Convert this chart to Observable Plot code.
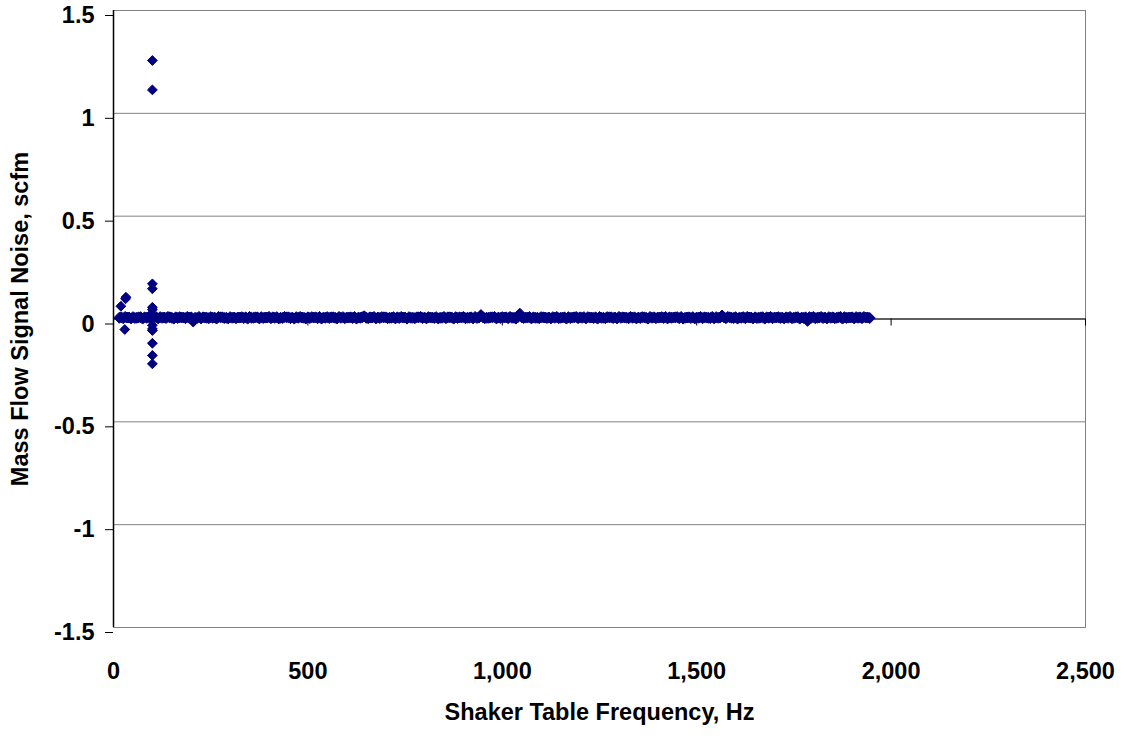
<!DOCTYPE html>
<html>
<head>
<meta charset="utf-8">
<script src="https://cdn.jsdelivr.net/npm/d3@7"></script>
<script src="https://cdn.jsdelivr.net/npm/@observablehq/plot@0.6"></script>
<style>
  html, body { margin: 0; padding: 0; background: #ffffff; }
  #chart { width: 1127px; height: 736px; }
</style>
</head>
<body>
<div id="chart"></div>
<script>
// Dense sweep band, pass A: frequency (Hz) and noise (scfm)
const bandFreqA = [
  15,25,35,45,55,65,75,85,95,105,
  115,125,135,145,155,165,175,185,195,205,
  215,225,235,245,255,265,275,285,295,305,
  315,325,335,345,355,365,375,385,395,405,
  415,425,435,445,455,465,475,485,495,505,
  515,525,535,545,555,565,575,585,595,605,
  615,625,635,645,655,665,675,685,695,705,
  715,725,735,745,755,765,775,785,795,805,
  815,825,835,845,855,865,875,885,895,905,
  915,925,935,945,955,965,975,985,995,1005,
  1015,1025,1035,1045,1055,1065,1075,1085,1095,1105,
  1115,1125,1135,1145,1155,1165,1175,1185,1195,1205,
  1215,1225,1235,1245,1255,1265,1275,1285,1295,1305,
  1315,1325,1335,1345,1355,1365,1375,1385,1395,1405,
  1415,1425,1435,1445,1455,1465,1475,1485,1495,1505,
  1515,1525,1535,1545,1555,1565,1575,1585,1595,1605,
  1615,1625,1635,1645,1655,1665,1675,1685,1695,1705,
  1715,1725,1735,1745,1755,1765,1775,1785,1795,1805,
  1815,1825,1835,1845,1855,1865,1875,1885,1895,1905,
  1915,1925,1935,1945
];
const bandNoiseA = [
  0.006,0.004,0.007,0.003,0.005,0.008,0.002,0.006,0.004,0.007,
  0.003,0.006,0.005,0.008,0.002,0.005,0.007,0.004,0.006,-0.012,
  0.005,0.003,0.007,0.004,0.006,0.002,0.008,0.005,0.003,0.006,
  0.004,0.007,0.005,0.002,0.006,0.008,0.003,0.005,0.007,0.004,
  0.006,0.003,0.005,0.008,0.004,0.002,0.006,0.007,0.003,0.005,
  0.007,0.004,0.002,0.006,0.005,0.008,0.003,0.006,0.004,0.007,
  0.005,0.002,0.006,0.013,0.004,0.007,0.003,0.005,0.008,0.004,
  0.006,0.003,0.005,0.007,0.002,0.006,0.004,0.008,0.005,0.003,
  0.007,0.005,0.003,0.006,0.004,0.008,0.002,0.005,0.007,0.004,
  0.006,0.003,0.005,0.019,0.004,0.006,0.008,0.003,0.005,0.007,
  0.004,0.006,0.002,0.026,0.005,0.007,0.003,0.006,0.004,0.008,
  0.005,0.003,0.006,0.004,0.007,0.002,0.005,0.008,0.004,0.006,
  0.003,0.007,0.005,0.002,0.006,0.004,0.008,0.005,0.003,0.006,
  0.007,0.004,0.006,0.003,0.005,0.008,0.002,0.006,0.004,0.007,
  0.005,0.003,0.006,0.008,0.004,0.002,0.007,0.005,0.003,0.006,
  0.004,0.007,0.005,0.003,0.006,0.017,0.004,0.008,0.005,0.002,
  0.006,0.004,0.007,0.003,0.005,0.008,0.002,0.006,0.004,0.007,
  0.005,0.003,0.006,0.004,0.008,0.002,0.005,-0.009,0.006,0.004,
  0.007,0.005,0.003,0.006,0.004,0.008,0.002,0.005,0.007,0.003,
  0.006,0.004,0.007,0.005
];
// Dense sweep band, pass B
const bandFreqB = [
  20,30,40,50,60,70,80,90,100,110,
  120,130,140,150,160,170,180,190,200,210,
  220,230,240,250,260,270,280,290,300,310,
  320,330,340,350,360,370,380,390,400,410,
  420,430,440,450,460,470,480,490,500,510,
  520,530,540,550,560,570,580,590,600,610,
  620,630,640,650,660,670,680,690,700,710,
  720,730,740,750,760,770,780,790,800,810,
  820,830,840,850,860,870,880,890,900,910,
  920,930,940,950,960,970,980,990,1000,1010,
  1020,1030,1040,1050,1060,1070,1080,1090,1100,1110,
  1120,1130,1140,1150,1160,1170,1180,1190,1200,1210,
  1220,1230,1240,1250,1260,1270,1280,1290,1300,1310,
  1320,1330,1340,1350,1360,1370,1380,1390,1400,1410,
  1420,1430,1440,1450,1460,1470,1480,1490,1500,1510,
  1520,1530,1540,1550,1560,1570,1580,1590,1600,1610,
  1620,1630,1640,1650,1660,1670,1680,1690,1700,1710,
  1720,1730,1740,1750,1760,1770,1780,1790,1800,1810,
  1820,1830,1840,1850,1860,1870,1880,1890,1900,1910,
  1920,1930,1940
];
const bandNoiseB = [
  0.008,0.010,0.007,0.009,0.006,0.009,0.008,0.010,0.007,0.009,
  0.009,0.007,0.010,0.006,0.008,0.009,0.007,0.010,0.008,0.006,
  0.010,0.008,0.006,0.009,0.007,0.010,0.008,0.006,0.009,0.007,
  0.007,0.009,0.008,0.010,0.006,0.008,0.009,0.007,0.010,0.008,
  0.009,0.006,0.010,0.008,0.007,0.009,0.010,0.006,0.008,0.009,
  0.008,0.010,0.007,0.009,0.008,0.006,0.010,0.009,0.007,0.008,
  0.010,0.007,0.009,0.006,0.008,0.010,0.007,0.009,0.008,0.006,
  0.009,0.008,0.010,0.007,0.009,0.006,0.008,0.010,0.007,0.009,
  0.007,0.009,0.006,0.010,0.008,0.007,0.009,0.008,0.010,0.006,
  0.008,0.010,0.007,0.009,0.006,0.008,0.010,0.007,0.009,0.008,
  0.010,0.006,0.009,0.008,0.007,0.010,0.008,0.006,0.009,0.007,
  0.007,0.009,0.010,0.006,0.008,0.009,0.007,0.010,0.008,0.009,
  0.009,0.007,0.008,0.010,0.006,0.009,0.008,0.007,0.010,0.008,
  0.006,0.010,0.008,0.007,0.009,0.006,0.010,0.008,0.007,0.009,
  0.010,0.008,0.007,0.009,0.010,0.006,0.008,0.009,0.007,0.010,
  0.008,0.006,0.010,0.009,0.007,0.008,0.010,0.006,0.009,0.007,
  0.009,0.010,0.007,0.008,0.006,0.009,0.008,0.010,0.007,0.009,
  0.007,0.008,0.010,0.006,0.009,0.007,0.008,0.009,0.010,0.006,
  0.010,0.007,0.009,0.008,0.006,0.010,0.009,0.007,0.008,0.009,
  0.008,0.010,0.007
];
// Outlying readings at low frequencies
const outlierFreq  = [100, 100, 100, 100, 100, 100, 100, 100, 100, 100, 100, 100, 32, 31, 19, 29];
const outlierNoise = [1.257, 1.114, 0.171, 0.147, 0.057, 0.046, -0.030, -0.048, -0.056, -0.118, -0.177, -0.218, 0.106, 0.098, 0.062, -0.051];

const xTicks = [0, 500, 1000, 1500, 2000, 2500];
const xTickLabels = ["0", "500", "1,000", "1,500", "2,000", "2,500"];
const yTicks = [-1.5, -1, -0.5, 0, 0.5, 1, 1.5];
const yTickLabels = ["-1.5", "-1", "-0.5", "0", "0.5", "1", "1.5"];

const xTitle = "Shaker Table Frequency, Hz";
const yTitle = "Mass Flow Signal Noise, scfm";

const band = bandFreqA.map((f, i) => ({f, v: bandNoiseA[i]}))
  .concat(bandFreqB.map((f, i) => ({f, v: bandNoiseB[i]})));
const outliers = outlierFreq.map((f, i) => ({f, v: outlierNoise[i]}));

const navy = "#000080";
const gray = "#808080";
const font = "'Liberation Sans', Arial, Helvetica, sans-serif";

// Excel-style square diamond whose half-diagonal equals the dot radius
const excelDiamond = {
  draw(context, size) {
    const h = Math.sqrt(size / Math.PI);
    context.moveTo(0, -h);
    context.lineTo(h, 0);
    context.lineTo(0, h);
    context.lineTo(-h, 0);
    context.closePath();
  }
};

const chart = Plot.plot({
  width: 1127,
  height: 736,
  marginLeft: 113,
  marginRight: 42,
  marginTop: 10,
  marginBottom: 109,
  style: {fontFamily: font, fontSize: "23.5px", fontWeight: "bold", color: "#000", background: "#fff", overflow: "visible"},
  x: {domain: [0, 2500]},
  y: {domain: [-1.5, 1.5]},
  marks: [
    Plot.ruleY(yTicks, {stroke: gray, strokeWidth: 1}),
    Plot.frame({stroke: gray, strokeWidth: 1}),
    Plot.ruleX([0], {stroke: "#000", strokeWidth: 1.5}),
    Plot.ruleY([0], {stroke: "#000", strokeWidth: 1.2}),
    Plot.ruleX(xTicks, {x: d => d, y1: 0, y2: 0, insetBottom: -7, stroke: "#000", strokeWidth: 1}),
    Plot.axisY({ticks: yTicks, tickSize: 8, tickPadding: 11, dy: 5,
      tickFormat: d => yTickLabels[yTicks.indexOf(d)], label: null, stroke: "#000"}),
    Plot.axisX({ticks: xTicks, tickSize: 0, tickPadding: 35,
      tickFormat: d => xTickLabels[xTicks.indexOf(d)], label: null}),
    Plot.dot(band, {x: "f", y: "v", symbol: excelDiamond, r: 5.5, fill: navy, stroke: navy, strokeWidth: 1}),
    Plot.dot(outliers, {x: "f", y: "v", symbol: excelDiamond, r: 4.9, fill: navy, stroke: navy, strokeWidth: 1}),
    Plot.text([xTitle], {frameAnchor: "bottom", text: d => d, textAnchor: "middle", lineAnchor: "bottom", dy: 92,
      fontSize: 23.5, fontWeight: "bold", fill: "#000"}),
    Plot.text([yTitle], {frameAnchor: "left", text: d => d, rotate: -90, textAnchor: "middle", lineAnchor: "middle", dx: -93,
      fontSize: 23.5, fontWeight: "bold", fill: "#000"})
  ]
});
document.getElementById("chart").appendChild(chart);
</script>
</body>
</html>
